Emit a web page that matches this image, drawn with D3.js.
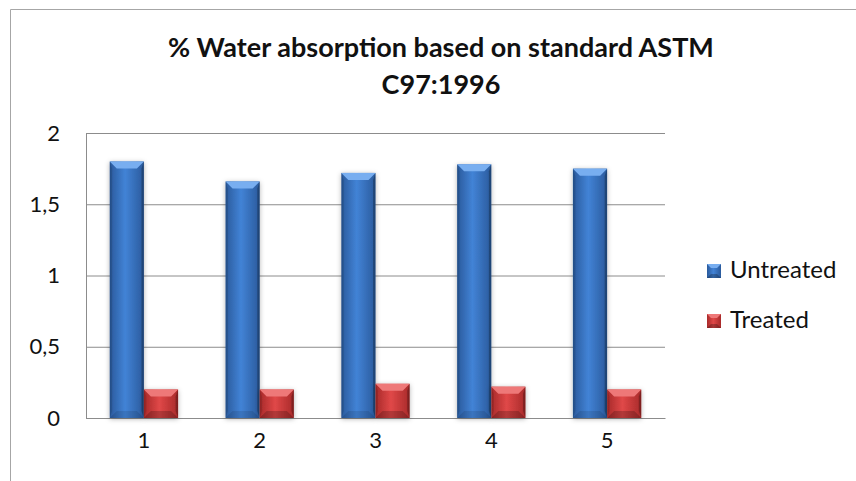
<!DOCTYPE html>
<html>
<head>
<meta charset="utf-8">
<script src="https://cdn.jsdelivr.net/npm/d3@7"></script>
<style>
  body { margin: 0; background: #fff; }
  svg { display: block; font-family: Lato, "Open Sans", sans-serif; }
</style>
</head>
<body>
<svg id="chart" width="856" height="481"></svg>
<script>
// data
var categories = ["1", "2", "3", "4", "5"];
var seriesNames = ["Untreated", "Treated"];
var untreated = [1.80, 1.66, 1.72, 1.78, 1.75];
var treated = [0.20, 0.20, 0.24, 0.22, 0.20];
var yTicks = [0, 0.5, 1, 1.5, 2];
var titleLines = ["% Water absorption based on standard ASTM", "C97:1996"];

var colors = {
  Untreated: { base: "#3a75c4", dark: "#2a5a9c", light: "#4283d6", top: "#78aef0" },
  Treated: { base: "#d23c3c", dark: "#a82a2a", light: "#e04848", top: "#ee7878" }
};

var svg = d3.select("#chart");
var margin = { left: 86, right: 191, top: 133, bottom: 63 };
var width = 856 - margin.left - margin.right;
var height = 481 - margin.top - margin.bottom;

// outer chart frame (only top and left visible)
svg.append("path")
  .attr("d", "M10.5,481 V9.5 H856")
  .attr("fill", "none")
  .attr("stroke", "#a6a6a6")
  .attr("stroke-width", 1);

// title
var title = svg.append("text")
  .attr("x", 441)
  .attr("y", 57)
  .attr("text-anchor", "middle")
  .style("font-weight", "bold")
  .style("font-size", "27px")
  .attr("fill", "#111");
title.selectAll("tspan")
  .data(titleLines)
  .join("tspan")
  .attr("x", 441)
  .attr("dy", function (d, i) { return i == 0 ? 0 : 37; })
  .text(function (d) { return d; });

var defs = svg.append("defs");
seriesNames.forEach(function (s) {
  var g = defs.append("linearGradient")
    .attr("id", "grad-" + s)
    .attr("x1", "0").attr("x2", "1").attr("y1", "0").attr("y2", "0");
  g.append("stop").attr("offset", "0%").attr("stop-color", colors[s].dark);
  g.append("stop").attr("offset", "45%").attr("stop-color", colors[s].light);
  g.append("stop").attr("offset", "100%").attr("stop-color", colors[s].dark);
});
var shadow = defs.append("filter").attr("id", "shadow")
  .attr("x", "-30%").attr("y", "-30%").attr("width", "160%").attr("height", "160%");
shadow.append("feDropShadow")
  .attr("dx", 0).attr("dy", 1).attr("stdDeviation", 2.5)
  .attr("flood-color", "#000").attr("flood-opacity", 0.3);

var plot = svg.append("g").attr("transform", "translate(" + margin.left + "," + margin.top + ")");

var x0 = d3.scaleBand()
  .domain(categories)
  .range([0, width])
  .paddingInner(0.41)
  .paddingOuter(0.205);
var x1 = d3.scaleBand()
  .domain(seriesNames)
  .range([0, x0.bandwidth()]);
var y = d3.scaleLinear()
  .domain([0, 2])
  .range([height, 0]);

var locale = d3.formatLocale({ decimal: ",", thousands: ".", grouping: [3], currency: ["", ""] });
var fmt = locale.format("~g");

// y gridlines and labels
var yAxis = plot.append("g")
  .call(d3.axisLeft(y).tickValues(yTicks).tickSize(-width).tickPadding(26).tickFormat(fmt));
yAxis.select(".domain").remove();
yAxis.selectAll(".tick line").attr("stroke", "#8c8c8c");
yAxis.selectAll(".tick text")
  .style("font-size", "22px")
  .style("font-family", "Lato, 'Open Sans', sans-serif")
  .attr("fill", "#111");

// left axis line
plot.append("line")
  .attr("x1", 0.5).attr("x2", 0.5)
  .attr("y1", 0).attr("y2", height)
  .attr("stroke", "#8c8c8c");

// x axis
var xAxis = plot.append("g")
  .attr("transform", "translate(0," + height + ")")
  .call(d3.axisBottom(x0).tickSize(0).tickPadding(14));
xAxis.select(".domain").attr("stroke", "#8c8c8c");
xAxis.selectAll(".tick text")
  .style("font-size", "22px")
  .style("font-family", "Lato, 'Open Sans', sans-serif")
  .attr("fill", "#111");

var rows = categories.map(function (c, i) {
  return { cat: c, values: [{ s: "Untreated", v: untreated[i] }, { s: "Treated", v: treated[i] }] };
});

// bevelled bar: body plus four facets
function bevel(sel) {
  sel.each(function (d) {
    var g = d3.select(this);
    var w = x1.bandwidth();
    var h = height - y(d.v);
    var b = Math.min(7, h / 2, w / 2);
    var c = colors[d.s];
    g.append("rect")
      .attr("width", w).attr("height", h)
      .attr("fill", "url(#grad-" + d.s + ")")
      .attr("filter", "url(#shadow)");
    // top facet
    g.append("polygon")
      .attr("points", [[0, 0], [w, 0], [w - b, b], [b, b]].join(" "))
      .attr("fill", c.top);
    // bottom facet
    g.append("polygon")
      .attr("points", [[0, h], [w, h], [w - b, h - b], [b, h - b]].join(" "))
      .attr("fill", "#000").attr("opacity", d.s == "Treated" ? 0.2 : 0.1);
    // left facet
    g.append("polygon")
      .attr("points", [[0, 0], [b * 0.35, b], [b * 0.35, h - b], [0, h]].join(" "))
      .attr("fill", "#000").attr("opacity", 0.12);
    // right facet
    g.append("polygon")
      .attr("points", [[w, 0], [w - b * 0.35, b], [w - b * 0.35, h - b], [w, h]].join(" "))
      .attr("fill", "#000").attr("opacity", 0.25);
  });
}

plot.selectAll(".group")
  .data(rows)
  .join("g")
  .attr("class", "group")
  .attr("transform", function (d) { return "translate(" + x0(d.cat) + ",0)"; })
  .selectAll(".bar")
  .data(function (d) { return d.values; })
  .join("g")
  .attr("class", "bar")
  .attr("transform", function (d) { return "translate(" + x1(d.s) + "," + y(d.v) + ")"; })
  .call(bevel);

// legend
var legend = svg.append("g").attr("transform", "translate(707,264)");
var item = legend.selectAll("g")
  .data(seriesNames)
  .join("g")
  .attr("transform", function (d, i) { return "translate(0," + i * 50 + ")"; });
item.append("rect")
  .attr("width", 14).attr("height", 14)
  .attr("fill", function (d) { return "url(#grad-" + d + ")"; });
item.append("polygon")
  .attr("points", "0,0 14,0 10,4 4,4")
  .attr("fill", function (d) { return colors[d].top; });
item.append("polygon")
  .attr("points", "0,14 14,14 10,10 4,10")
  .attr("fill", "#000").attr("opacity", 0.25);
item.append("text")
  .attr("x", 23)
  .attr("y", 14)
  .style("font-size", "24px")
  .attr("fill", "#111")
  .text(function (d) { return d; });
</script>
</body>
</html>
